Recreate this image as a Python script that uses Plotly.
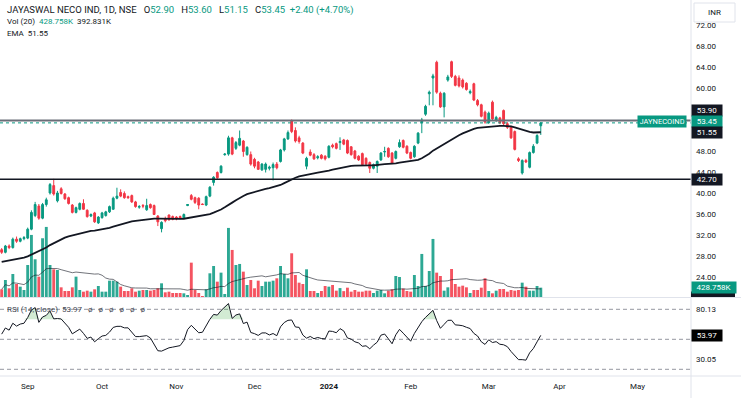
import plotly.graph_objects as go

# ---------------- data ----------------
opens = [29.3,28.8,30.0,29.7,31.3,30.9,31.4,31.5,33.2,35.8,
 37.6,35.3,37.9,40.1,41.5,38.6,40.9,39.9,39.2,37.8,
 36.4,37.0,38.1,36.8,35.7,36.3,34.4,35.4,35.8,36.5,
 37.0,39.1,40.2,40.0,39.4,39.6,38.4,37.4,37.7,36.9,
 37.9,37.7,35.7,33.3,35.2,35.9,35.6,35.5,35.6,35.3,
 37.7,39.6,39.2,39.1,38.0,37.8,39.5,42.1,44.0,44.0,
 47.4,47.5,50.6,48.6,49.2,50.0,47.4,47.4,46.5,46.0,
 44.5,44.6,44.8,44.9,45.6,46.1,48.3,50.4,53.9,52.0,
 50.6,49.6,45.2,47.9,47.4,46.8,47.3,47.1,46.9,49.2,
 49.5,49.7,50.2,50.1,48.9,48.1,47.1,47.6,46.7,45.9,
 44.8,45.2,46.4,47.9,48.6,47.7,46.7,48.9,50.1,49.0,
 47.8,47.0,49.6,53.5,55.1,59.0,62.0,65.0,59.1,56.5,
 61.6,65.1,62.3,62.0,61.6,61.0,59.2,60.9,57.7,56.9,
 55.5,53.5,57.4,54.0,54.4,55.8,53.3,52.7,51.8,46.6,
 43.9,46.3,45.0,47.8,49.6,52.9]
highs = [29.6,30.2,30.3,31.6,31.8,31.6,31.9,33.5,36.8,38.4,
 38.0,38.2,39.2,42.0,42.8,40.5,41.2,40.1,39.4,38.0,
 37.5,38.3,38.9,37.0,36.2,36.5,35.7,36.5,36.7,37.7,
 39.4,41.1,40.8,40.4,39.6,39.8,38.6,37.8,38.0,39.0,
 38.1,37.9,35.9,34.7,35.6,36.0,35.8,35.7,35.8,36.2,
 38.0,39.9,39.4,39.3,38.1,39.6,41.4,43.3,44.2,45.4,
 47.7,51.0,50.8,50.0,52.0,50.2,49.0,48.0,46.8,46.2,
 45.8,45.9,45.3,45.9,46.0,48.5,50.6,52.0,54.1,52.6,
 51.0,49.8,47.0,48.4,47.7,47.3,47.5,47.3,49.2,49.5,
 49.7,50.7,50.4,50.3,49.0,48.3,47.3,47.8,46.9,46.1,
 45.7,46.3,47.9,48.9,48.8,47.9,48.2,50.3,50.3,49.2,
 48.0,49.2,51.7,54.4,56.9,59.6,62.8,65.3,59.4,59.3,
 62.6,65.3,62.6,62.5,61.9,61.2,59.8,61.1,58.0,57.1,
 55.8,55.6,57.7,54.8,54.6,56.0,53.6,52.9,52.0,46.9,
 46.5,46.6,48.0,49.4,51.3,53.6]
lows = [28.5,28.6,29.4,29.5,30.6,30.7,31.1,31.3,33.0,35.5,
 35.0,35.1,37.5,39.8,39.6,38.3,39.8,38.8,37.9,36.2,
 36.2,36.8,36.9,35.4,35.5,34.4,34.2,35.2,35.6,36.3,
 36.9,38.9,39.3,39.0,39.0,38.2,37.3,37.1,37.2,36.7,
 37.1,35.9,33.8,32.6,34.5,34.8,34.9,34.9,35.1,35.2,
 37.6,38.7,38.0,37.0,37.8,37.6,39.3,41.5,42.8,43.8,
 47.2,47.2,47.3,48.3,49.0,47.0,47.2,45.3,44.8,44.5,
 44.3,44.0,44.4,42.5,44.6,45.9,48.0,50.2,51.5,49.7,
 49.5,47.5,44.6,47.1,46.4,46.5,46.5,46.3,46.7,48.6,
 48.4,48.3,49.2,47.5,47.2,46.5,46.2,45.3,45.4,43.9,
 44.6,43.9,46.2,47.0,46.8,45.6,46.5,48.7,48.6,47.5,
 46.5,46.8,49.4,51.5,54.8,56.8,56.8,59.0,56.3,54.5,
 61.3,62.0,60.4,60.2,60.0,59.6,58.9,57.6,56.6,54.5,
 53.3,53.3,54.0,53.6,53.2,53.0,52.3,50.4,48.2,46.0,
 43.6,45.8,44.8,47.6,49.4,51.15]
closes = [28.8,30.0,29.7,31.3,30.9,31.4,31.6,33.2,36.4,37.9,
 35.3,37.9,38.8,41.7,39.9,40.1,40.0,39.0,38.1,36.4,
 37.3,38.1,37.0,35.6,36.0,34.6,35.5,36.3,36.5,37.5,
 39.1,39.5,39.5,39.2,39.2,38.4,37.5,37.5,37.6,37.7,
 37.3,36.0,34.6,34.5,34.8,35.0,35.1,35.2,35.3,36.0,
 37.9,38.9,38.3,37.8,37.9,39.4,41.2,43.1,43.0,45.2,
 47.5,50.6,47.5,49.7,50.5,48.0,48.8,45.6,45.2,44.6,
 45.6,45.6,45.0,45.5,44.9,48.3,50.4,51.6,51.8,50.0,
 49.9,47.7,46.7,47.3,46.6,47.0,46.7,46.6,49.0,48.9,
 48.6,49.9,49.4,47.7,47.4,46.7,46.4,45.5,45.6,44.8,
 45.5,46.1,47.7,48.0,47.0,45.8,48.0,49.7,48.8,47.7,
 46.7,49.0,51.5,54.0,56.6,59.3,62.4,59.3,56.5,59.1,
 62.2,62.3,60.6,60.5,60.3,59.8,59.4,57.8,56.9,54.7,
 53.6,55.3,54.2,54.5,53.5,53.3,52.6,50.6,48.4,46.3,
 46.3,46.0,47.8,49.0,51.05,53.45]
volumes_k = [353,782,399,1058,598,475,322,1472,2852,1733,
 935,2699,3220,1472,1273,1242,445,276,276,445,
 935,322,245,291,245,353,506,245,245,751,
 751,705,475,276,276,399,245,291,322,322,
 291,322,399,629,215,245,184,184,184,169,
 92,1579,322,184,46,353,1089,1426,705,1119,
 138,3174,2162,1472,1518,1165,552,782,399,751,
 506,705,705,751,859,1426,1058,859,2009,1012,
 659,598,1273,276,276,184,276,506,475,552,
 291,410,270,429,245,322,245,245,291,291,
 184,291,322,169,291,353,966,920,383,276,
 245,1012,506,1978,506,1196,2668,1119,966,291,
 445,1288,598,475,521,445,184,322,322,429,
 859,276,169,291,368,368,245,322,291,322,
 659,475,291,291,506,428.758]

month_labels = ["Sep", "Oct", "Nov", "Dec", "<b>2024</b>", "Feb", "Mar", "Apr", "May"]
month_bars = [7, 27, 47, 68, 88, 110, 131, 150, 171]
price_ticks = [24, 28, 32, 36, 40, 44, 48, 60, 64, 68, 72]
rsi_tick_vals = [80.13, 30.05]
resistance = 53.90
support = 42.70
ema_shown = 51.55
rsi_shown = 53.97
vol_shown = "428.758K"
vol_ma_shown = "392.831K"
rsi_bands = [80, 50, 20]
rsi_fill_level = 70

ema_len, ema_seed = 50, 26.9
rsi_len, rsi_gain_seed, rsi_loss_seed = 14, 0.32, 0.26
vol_ma_len = 20

# ---------------- indicators ----------------
n = len(closes)
xs = list(range(n))
alpha = 2 / (ema_len + 1)
ema, e = [], ema_seed
for c in closes:
    e = e + alpha * (c - e)
    ema.append(e)

rsi, ag, al, prev = [], rsi_gain_seed, rsi_loss_seed, None
for c in closes:
    if prev is not None:
        ch = c - prev
        ag = (ag * (rsi_len - 1) + max(ch, 0)) / rsi_len
        al = (al * (rsi_len - 1) + max(-ch, 0)) / rsi_len
    rsi.append(100 - 100 / (1 + ag / al) if al > 0 else 100)
    prev = c

vol_ma = []
for i in range(n):
    w = volumes_k[max(0, i - vol_ma_len + 1): i + 1]
    vol_ma.append(sum(w) / len(w))

UP, DN = "#089981", "#f23645"
UPV, DNV = "rgba(8,153,129,0.85)", "rgba(242,54,69,0.85)"
vol_colors = [UPV if c >= o else DNV for o, c in zip(opens, closes)]

# ---------------- geometry ----------------
W, H = 741, 398
PR, PB = 691, 376          # plot right edge / plot bottom (px)
MAIN_BOTTOM, RSI_TOP = 297, 298
px_per_unit, y40 = 5.25, 193.5
price_top = 40 + y40 / px_per_unit
price_bot = 40 - (MAIN_BOTTOM - y40) / px_per_unit
vol_per_px = 45.95
def py(p):  # pixel y -> paper y
    return (PB - p) / PB
def pxx(p):
    return p / PR

FONT = "Roboto, Liberation Sans, sans-serif"
DARK = "#131722"

fig = go.Figure()
fig.add_trace(go.Bar(x=xs, y=volumes_k, marker=dict(color=vol_colors, line=dict(width=0)),
                     width=0.78, yaxis="y", xaxis="x", hoverinfo="skip"))
fig.add_trace(go.Scatter(x=xs, y=vol_ma, mode="lines", line=dict(color=DARK, width=0.8),
                         opacity=0.75, yaxis="y", xaxis="x", hoverinfo="skip"))
fig.add_trace(go.Candlestick(x=xs, open=opens, high=highs, low=lows, close=closes,
                             increasing=dict(line=dict(color=UP, width=1), fillcolor=UP),
                             decreasing=dict(line=dict(color=DN, width=1), fillcolor=DN),
                             whiskerwidth=0, yaxis="y3", xaxis="x", hoverinfo="skip"))
fig.add_trace(go.Scatter(x=xs, y=ema, mode="lines", line=dict(color=DARK, width=1.8),
                         yaxis="y3", xaxis="x", hoverinfo="skip"))
# RSI pane
fig.add_trace(go.Scatter(x=xs, y=[rsi_fill_level] * n, mode="lines", line=dict(width=0),
                         yaxis="y2", xaxis="x", hoverinfo="skip"))
fig.add_trace(go.Scatter(x=xs, y=[max(v, rsi_fill_level) for v in rsi], mode="lines",
                         line=dict(width=0), fill="tonexty", fillcolor="rgba(76,175,80,0.25)",
                         yaxis="y2", xaxis="x", hoverinfo="skip"))
fig.add_trace(go.Scatter(x=xs, y=rsi, mode="lines", line=dict(color=DARK, width=1),
                         yaxis="y2", xaxis="x", hoverinfo="skip"))

shapes = []
shapes.append(dict(type="line", xref="paper", yref="y3", x0=0, x1=1, y0=resistance, y1=resistance,
                   line=dict(color="#6b6e78", width=2), layer="above"))
shapes.append(dict(type="line", xref="paper", yref="y3", x0=0, x1=1, y0=closes[-1], y1=closes[-1],
                   line=dict(color=UP, width=1, dash="dot"), layer="above"))
shapes.append(dict(type="line", xref="paper", yref="y3", x0=0, x1=1, y0=support, y1=support,
                   line=dict(color=DARK, width=1.5), layer="above"))
for b in rsi_bands:
    shapes.append(dict(type="line", xref="paper", yref="y2", x0=0, x1=1, y0=b, y1=b,
                       line=dict(color="#9598a1", width=1, dash="4px,3px"), layer="below"))
SEP = "#e0e3eb"
shapes.append(dict(type="line", xref="paper", yref="paper", x0=1, x1=1, y0=py(H), y1=1,
                   line=dict(color=SEP, width=1), layer="above"))
shapes.append(dict(type="line", xref="paper", yref="paper", x0=0, x1=pxx(W), y0=py(297.5), y1=py(297.5),
                   line=dict(color=SEP, width=1), layer="above"))
shapes.append(dict(type="line", xref="paper", yref="paper", x0=0, x1=pxx(W), y0=py(376), y1=py(376),
                   line=dict(color=SEP, width=1), layer="above"))
shapes.append(dict(type="rect", xref="paper", yref="paper", x0=pxx(694), x1=pxx(735), y0=py(22), y1=py(3),
                   fillcolor="white", line=dict(color=SEP, width=1), layer="above"))
shapes.append(dict(type="rect", xref="paper", yref="paper", x0=1, x1=pxx(735), y0=py(297), y1=py(291.5),
                   fillcolor=DARK, line=dict(width=0), layer="above"))

def box(text, y, yref, bg, yshift=0, width=27, size=8):
    return dict(text=text, x=1, xref="paper", xanchor="left", y=y, yref=yref, yanchor="middle",
                yshift=yshift, showarrow=False, bgcolor=bg, width=width, height=8, borderpad=1.5,
                font=dict(family=FONT, size=size, color="white"), align="center")

T = lambda s: f"<span style='color:{UP}'>{s}</span>"
NB = "\u00a0"
G = NB * 3
ann = [
    dict(text=f"JAYASWAL NECO IND, 1D, NSE{G}O{T('52.90')}{G}H{T('53.60')}{G}L{T('51.15')}"
              f"{G}C{T('53.45')}{NB}{NB}{T('+2.40 (+4.70%)')}",
         x=pxx(5), y=py(10), xanchor="left", yanchor="middle",
         font=dict(family=FONT, size=9.5, color=DARK)),
    dict(text=f"Vol (20){NB}{NB}{T(vol_shown)}{NB}{NB}{vol_ma_shown}", x=pxx(5), y=py(22), xanchor="left", yanchor="middle"),
    dict(text=f"EMA{NB}{NB}{ema_shown:.2f}", x=pxx(5), y=py(33.5), xanchor="left", yanchor="middle"),
    dict(text=f"RSI (14, close){NB}{NB}{rsi_shown:.2f}" + (f"{NB}{NB}{NB}ø" * 6),
         x=pxx(5), y=py(309.5), xanchor="left", yanchor="middle", font=dict(family=FONT, size=8, color="#434651")),
    dict(text="INR", x=pxx(714.5), y=py(12.5), xanchor="center", yanchor="middle"),
]
for a in ann:
    a.setdefault("font", dict(family=FONT, size=8, color=DARK))
    a.update(xref="paper", yref="paper", showarrow=False)
ann += [
    box(f"{resistance:.2f}", resistance, "y3", DARK, yshift=10),
    box(f"{closes[-1]:.2f}", closes[-1], "y3", "#089981", yshift=1),
    box(f"{ema_shown:.2f}", ema_shown, "y3", DARK),
    box(f"{support:.2f}", support, "y3", DARK),
    box(vol_shown, volumes_k[-1], "y", "#089981", width=41),
    box(f"{rsi_shown:.2f}", rsi_shown, "y2", "black"),
    dict(text="JAYNECOIND", x=pxx(687), xref="paper", xanchor="right", y=closes[-1], yref="y3",
         yanchor="middle", yshift=1, showarrow=False, bgcolor="#089981", borderpad=1.5, height=8,
         font=dict(family=FONT, size=7.5, color="white")),
]

axis_font = dict(family=FONT, size=8, color=DARK)
fig.update_layout(
    width=W, height=H, margin=dict(l=0, r=W - PR, t=0, b=H - PB),
    paper_bgcolor="white", plot_bgcolor="white", showlegend=False,
    xaxis=dict(domain=[0, 1], range=[-0.45, 185.4], anchor="y2", tickmode="array",
               tickvals=month_bars, ticktext=month_labels, showgrid=False, zeroline=False,
               showline=False, ticks="", tickfont=axis_font, ticklabelstandoff=4,
               rangeslider=dict(visible=False), fixedrange=True),
    yaxis=dict(domain=[py(MAIN_BOTTOM), 1], range=[0, MAIN_BOTTOM * vol_per_px], visible=False,
               anchor="x", fixedrange=True),
    yaxis3=dict(overlaying="y", anchor="x", side="right", range=[price_bot, price_top],
                tickmode="array", tickvals=price_ticks, ticktext=[f"{v:.2f}" for v in price_ticks],
                showgrid=False, zeroline=False, showline=False, ticks="", tickfont=axis_font,
                ticklabelstandoff=4, fixedrange=True),
    yaxis2=dict(domain=[0, py(RSI_TOP)], range=[50 - (PB - 339.3), 50 + (339.3 - RSI_TOP)],
                anchor="x", side="right", tickmode="array", tickvals=rsi_tick_vals,
                ticktext=[f"{v:.2f}" for v in rsi_tick_vals], showgrid=False, zeroline=False,
                showline=False, ticks="", tickfont=axis_font, ticklabelstandoff=4, fixedrange=True),
    shapes=shapes, annotations=ann,
)

fig.write_html("out.html", config={"displayModeBar": False},
               post_script="document.body.style.margin='0';document.body.style.overflow='hidden';")
